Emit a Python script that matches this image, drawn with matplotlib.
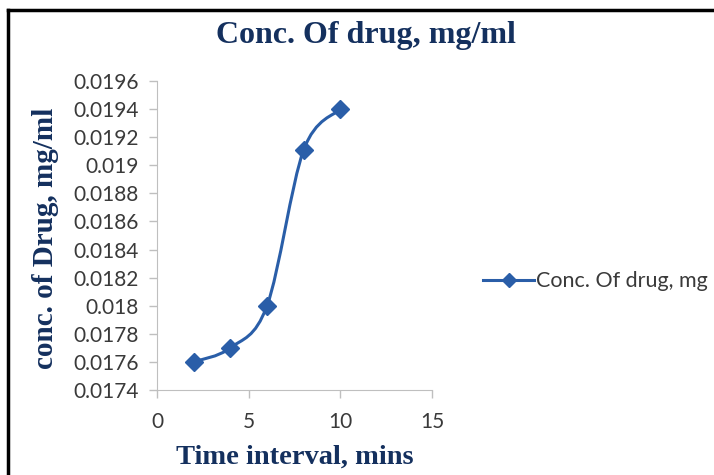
import matplotlib
matplotlib.use("Agg")
import matplotlib.pyplot as plt
from matplotlib.path import Path
from matplotlib.patches import PathPatch
from matplotlib.lines import Line2D
import numpy as np

# data
time_min = [2, 4, 6, 8, 10]
conc = [0.0176, 0.0177, 0.0180, 0.01911, 0.0194]
y_ticks = [0.0174, 0.0176, 0.0178, 0.018, 0.0182, 0.0184, 0.0186, 0.0188,
           0.019, 0.0192, 0.0194, 0.0196]
x_ticks = [0, 5, 10, 15]

BLUE = "#2a5ea8"
NAVY = "#14305e"
GREY = "#3a3a3a"
SERIF = "Liberation Serif"
SANS = "Lato"


def smooth_path(xs, ys):
    # excel style smoothed line: catmull-rom turned into cubic beziers
    pts = np.column_stack([xs, ys]).astype(float)
    n = len(pts)
    verts = [pts[0]]
    codes = [Path.MOVETO]
    for i in range(n - 1):
        p0 = pts[i - 1] if i > 0 else pts[i]
        p1 = pts[i]
        p2 = pts[i + 1]
        p3 = pts[i + 2] if i + 2 < n else pts[i + 1]
        c1 = p1 + (p2 - p0) / 6
        c2 = p2 - (p3 - p1) / 6
        verts += [c1, c2, p2]
        codes += [Path.CURVE4] * 3
    return Path(verts, codes)


fig = plt.figure(figsize=(7.14, 4.75), dpi=100)
ax = fig.add_axes([0.2199, 0.1789, 0.3852, 0.6505])

ax.add_patch(PathPatch(smooth_path(time_min, conc), fill=False,
                       edgecolor=BLUE, lw=2.2, zorder=2))
ax.plot(time_min, conc, ls="none", marker="D", ms=9.5, color=BLUE, zorder=3)

ax.set_xlim(0, 15)
ax.set_ylim(0.0174, 0.0196)
ax.set_xticks(x_ticks)
ax.set_yticks(y_ticks)
ax.set_xticklabels([str(v) for v in x_ticks])
ax.set_yticklabels([f"{v:g}" for v in y_ticks])
for s in ["top", "right"]:
    ax.spines[s].set_visible(False)
for s in ["left", "bottom"]:
    ax.spines[s].set_color("#bfbfbf")
ax.tick_params(colors="#bfbfbf", length=6, width=1, labelcolor=GREY, labelsize=15)
for lab in ax.get_xticklabels() + ax.get_yticklabels():
    lab.set_fontfamily(SANS)
ax.tick_params(axis="x", pad=10)
ax.tick_params(axis="y", pad=7)

ax.set_xlabel("Time interval, mins", family=SERIF, weight="bold", size=20.5,
              color=NAVY, va="center")
ax.xaxis.set_label_coords(0.5, -0.217)
ax.set_ylabel("conc. of Drug, mg/ml", family=SERIF, weight="bold", size=21,
              color=NAVY, va="center")
ax.yaxis.set_label_coords(-0.407, 0.492)
fig.text(0.513, 0.926, "Conc. Of drug, mg/ml", family=SERIF, weight="bold",
         size=23, color=NAVY, ha="center", va="center")

handle = Line2D([], [], color=BLUE, lw=2.2, marker="D", ms=7)
leg = fig.legend([handle], ["Conc. Of drug, mg"], loc="center left",
                 bbox_to_anchor=(0.662, 0.408), frameon=False, borderpad=0,
                 handlelength=2.35, handletextpad=0.1,
                 prop={"family": SANS, "size": 15.5})
for t in leg.get_texts():
    t.set_color(GREY)

# black frame around the chart (cut off at right and bottom)
fig.add_artist(Line2D([0.0112, 0.0112], [0, 0.979], color="black", lw=2.5))
fig.add_artist(Line2D([0.0112, 1], [0.979, 0.979], color="black", lw=2.5))

fig.savefig("out.png", dpi=100)
